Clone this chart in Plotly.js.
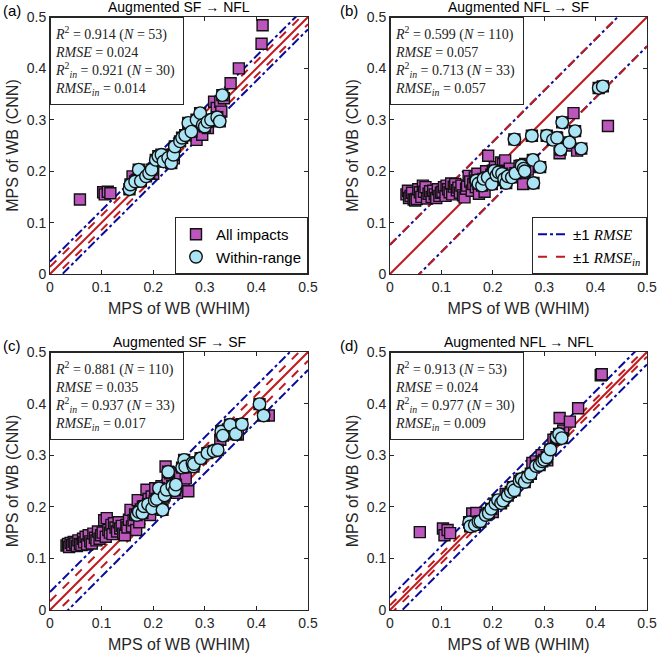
<!DOCTYPE html>
<html><head><meta charset="utf-8">
<script src="https://cdn.plot.ly/plotly-3.0.1.min.js"></script>
<style>html,body{margin:0;padding:0;background:#fff}#chart{width:658px;height:656px}</style>
</head><body><div id="chart"></div>
<script>
// ---------- NFL dataset (53 impacts, 30 within-range) ----------
const nflOutX = [0.058, 0.103, 0.106, 0.112, 0.117, 0.160, 0.168, 0.200, 0.225, 0.240, 0.277, 0.284, 0.295, 0.306, 0.318, 0.323, 0.330, 0.332, 0.337, 0.350, 0.366, 0.410, 0.412];
const nflOutY_sfModel = [0.145, 0.159, 0.155, 0.160, 0.157, 0.190, 0.183, 0.195, 0.220, 0.225, 0.281, 0.261, 0.271, 0.284, 0.335, 0.323, 0.335, 0.316, 0.342, 0.371, 0.400, 0.448, 0.484];
const nflOutY_nflModel = [0.151, 0.158, 0.145, 0.155, 0.149, 0.187, 0.188, 0.190, 0.225, 0.235, 0.285, 0.288, 0.300, 0.290, 0.330, 0.331, 0.372, 0.340, 0.348, 0.365, 0.391, 0.455, 0.457];
const nflInX = [0.154, 0.156, 0.165, 0.172, 0.176, 0.186, 0.192, 0.197, 0.205, 0.210, 0.216, 0.220, 0.229, 0.235, 0.239, 0.242, 0.252, 0.256, 0.262, 0.268, 0.274, 0.284, 0.291, 0.296, 0.300, 0.305, 0.312, 0.324, 0.329, 0.334];
const nflInY_sfModel = [0.165, 0.174, 0.180, 0.203, 0.181, 0.190, 0.196, 0.203, 0.222, 0.229, 0.232, 0.219, 0.226, 0.216, 0.232, 0.248, 0.258, 0.265, 0.270, 0.294, 0.277, 0.300, 0.313, 0.290, 0.287, 0.296, 0.300, 0.305, 0.297, 0.348];
const nflInY_nflModel = [0.170, 0.162, 0.165, 0.171, 0.172, 0.184, 0.188, 0.196, 0.206, 0.213, 0.207, 0.212, 0.222, 0.229, 0.238, 0.232, 0.250, 0.254, 0.248, 0.258, 0.264, 0.279, 0.281, 0.288, 0.291, 0.296, 0.311, 0.335, 0.341, 0.333];

// ---------- SF dataset (110 impacts, 33 within-range) ----------
const sfOutX = [0.032, 0.035, 0.037, 0.040, 0.043, 0.046, 0.049, 0.052, 0.055, 0.058, 0.061, 0.064, 0.066, 0.069, 0.072, 0.075, 0.078, 0.081, 0.084, 0.087, 0.090, 0.093, 0.096, 0.099, 0.102,
  0.105, 0.108, 0.110, 0.113, 0.116, 0.119, 0.121, 0.124, 0.127, 0.130, 0.133, 0.136, 0.139, 0.142, 0.145, 0.148, 0.150, 0.153, 0.156, 0.159, 0.162, 0.165, 0.167, 0.170, 0.173, 0.176, 0.180, 0.184,
  0.187, 0.191, 0.194, 0.197, 0.200, 0.204, 0.208, 0.212, 0.216, 0.220, 0.224, 0.228, 0.233, 0.237, 0.246, 0.252, 0.259, 0.263, 0.268,
  0.330, 0.345, 0.357, 0.364, 0.424];
const sfOutY_nflModel = [0.155, 0.162, 0.148, 0.152, 0.158, 0.145, 0.143, 0.146, 0.165, 0.159, 0.150, 0.172, 0.160, 0.169, 0.147, 0.156, 0.161, 0.150, 0.162, 0.155, 0.148, 0.165, 0.152, 0.158, 0.160,
  0.169, 0.152, 0.172, 0.165, 0.159, 0.176, 0.155, 0.170, 0.175, 0.163, 0.168, 0.158, 0.172, 0.153, 0.149, 0.166, 0.172, 0.191, 0.180, 0.162, 0.175, 0.188, 0.169, 0.195, 0.156, 0.183, 0.178, 0.160,
  0.200, 0.230, 0.178, 0.193, 0.201, 0.208, 0.183, 0.195, 0.217, 0.214, 0.221, 0.201, 0.205, 0.191, 0.190, 0.210, 0.175, 0.214, 0.203,
  0.235, 0.250, 0.313, 0.240, 0.288];
const sfOutY_sfModel = [0.125, 0.128, 0.122, 0.130, 0.126, 0.132, 0.129, 0.124, 0.135, 0.128, 0.126, 0.138, 0.131, 0.142, 0.127, 0.145, 0.133, 0.129, 0.148, 0.140, 0.135, 0.152, 0.138, 0.145, 0.150,
  0.174, 0.142, 0.178, 0.155, 0.150, 0.165, 0.147, 0.168, 0.160, 0.152, 0.170, 0.158, 0.163, 0.148, 0.145, 0.165, 0.160, 0.175, 0.194, 0.162, 0.174, 0.185, 0.155, 0.213, 0.170, 0.195, 0.200, 0.190,
  0.233, 0.215, 0.184, 0.220, 0.205, 0.236, 0.210, 0.225, 0.240, 0.218, 0.278, 0.252, 0.265, 0.232, 0.227, 0.259, 0.240, 0.255, 0.230,
  0.330, 0.350, 0.355, 0.340, 0.377];
const sfInX = [0.168, 0.172, 0.179, 0.182, 0.190, 0.198, 0.203, 0.207, 0.211, 0.218, 0.222, 0.226, 0.229, 0.237, 0.242, 0.244, 0.256, 0.260, 0.262, 0.276, 0.278, 0.279, 0.292, 0.305, 0.317, 0.325, 0.332, 0.335, 0.349, 0.360, 0.372, 0.406, 0.414];
const sfInY_nflModel = [0.182, 0.176, 0.172, 0.185, 0.188, 0.175, 0.201, 0.192, 0.198, 0.195, 0.185, 0.177, 0.190, 0.188, 0.262, 0.196, 0.211, 0.205, 0.200, 0.269, 0.222, 0.177, 0.208, 0.269, 0.261, 0.265, 0.242, 0.295, 0.256, 0.278, 0.244, 0.362, 0.365];
const sfInY_sfModel = [0.184, 0.190, 0.188, 0.201, 0.205, 0.197, 0.212, 0.215, 0.236, 0.194, 0.222, 0.233, 0.268, 0.240, 0.232, 0.243, 0.276, 0.291, 0.278, 0.285, 0.278, 0.283, 0.294, 0.304, 0.308, 0.310, 0.346, 0.338, 0.359, 0.341, 0.360, 0.399, 0.377];

// ---------- panel info ----------
const panelTitles = ['Augmented SF \u2192 NFL', 'Augmented NFL \u2192 SF', 'Augmented SF \u2192 SF', 'Augmented NFL \u2192 NFL'];
const panelLetters = ['(a)', '(b)', '(c)', '(d)'];
const r2All = ['0.914', '0.599', '0.881', '0.913'];
const nAll = [53, 110, 110, 53];
const rmseAll = [0.024, 0.057, 0.035, 0.024];
const r2In = ['0.921', '0.713', '0.937', '0.977'];
const nIn = [30, 33, 33, 30];
const rmseIn = [0.014, 0.057, 0.017, 0.009];
const tickVals = [0, 0.1, 0.2, 0.3, 0.4, 0.5];
const refX = [0, 0.5];

const panelData = [
  {outX: nflOutX, outY: nflOutY_sfModel, inX: nflInX, inY: nflInY_sfModel},
  {outX: sfOutX, outY: sfOutY_nflModel, inX: sfInX, inY: sfInY_nflModel},
  {outX: sfOutX, outY: sfOutY_sfModel, inX: sfInX, inY: sfInY_sfModel},
  {outX: nflOutX, outY: nflOutY_nflModel, inX: nflInX, inY: nflInY_nflModel}
];

// ---------- geometry (pixels) ----------
const W = 658, H = 656;
const colPx = [[50, 308], [390, 647]];
const rowPx = [[17, 274], [352, 610]];
const RED = '#C0191F', BLUE = '#0A0A9E';
const PURPLE = '#BC56BC', CYAN = '#ABE4F4';
const AX = '#262626';
const SANS = 'Liberation Sans, Arial, sans-serif';
const SERIF = 'Liberation Serif, Times New Roman, serif';

const traces = [];
const layout = {
  width: W, height: H, margin: {l: 0, r: 0, t: 0, b: 0},
  paper_bgcolor: '#fff', plot_bgcolor: '#fff', showlegend: true,
  annotations: [],
  legend: {x: 308 / W, xanchor: 'right', y: 1 - 274 / H, yanchor: 'bottom', bordercolor: AX, borderwidth: 1, bgcolor: '#fff',
           font: {family: SANS, size: 15, color: '#000'}, tracegroupgap: 0, itemwidth: 30},
  legend2: {x: 647 / W, xanchor: 'right', y: 1 - 274 / H, yanchor: 'bottom', bordercolor: AX, borderwidth: 1, bgcolor: '#fff',
           font: {family: SANS, size: 15, color: '#000'}, tracegroupgap: 0, itemwidth: 30}
};

for (let i = 0; i < 4; i++) {
  const c = i % 2, r = Math.floor(i / 2);
  const sfx = i === 0 ? '' : String(i + 1);
  const xa = 'x' + sfx, ya = 'y' + sfx;
  const d = panelData[i];
  const axBase = {
    range: [0, 0.5], tickvals: tickVals, ticks: 'inside', ticklen: 4, tickcolor: AX, tickwidth: 1,
    showline: true, linecolor: AX, linewidth: 1, mirror: 'ticks', showgrid: false, zeroline: false,
    tickfont: {family: SANS, size: 14, color: AX}, fixedrange: true
  };
  layout['xaxis' + sfx] = Object.assign({}, axBase, {
    domain: [colPx[c][0] / W, colPx[c][1] / W], anchor: ya,
    title: {text: 'MPS of WB (WHIM)', font: {family: SANS, size: 16, color: AX}, standoff: 9}
  });
  layout['yaxis' + sfx] = Object.assign({}, axBase, {
    domain: [1 - rowPx[r][1] / H, 1 - rowPx[r][0] / H], anchor: xa,
    title: {text: 'MPS of WB (CNN)', font: {family: SANS, size: 16, color: AX}, standoff: 4}
  });

  // reference lines
  [1, -1].forEach((s, k) => {
    traces.push({x: refX, y: refX.map(v => v + s * rmseAll[i]), xaxis: xa, yaxis: ya, mode: 'lines',
      line: {color: BLUE, width: 2, dash: 'dashdot'}, hoverinfo: 'skip',
      name: '\u00b11 <span style="font-family:Liberation Serif"><i>RMSE</i></span>',
      legend: 'legend2', legendgroup: 'rmse', showlegend: (i === 1 && k === 0)});
  });
  [1, -1].forEach((s, k) => {
    traces.push({x: refX, y: refX.map(v => v + s * rmseIn[i]), xaxis: xa, yaxis: ya, mode: 'lines',
      line: {color: RED, width: 2, dash: 'dash'}, hoverinfo: 'skip',
      name: '\u00b11 <span style="font-family:Liberation Serif"><i>RMSE<sub>in</sub></i></span>',
      legend: 'legend2', legendgroup: 'rmsein', showlegend: (i === 1 && k === 0)});
  });
  traces.push({x: refX, y: refX, xaxis: xa, yaxis: ya, mode: 'lines', line: {color: RED, width: 2},
    hoverinfo: 'skip', showlegend: false});

  // squares: all impacts
  traces.push({x: d.outX.concat(d.inX), y: d.outY.concat(d.inY), xaxis: xa, yaxis: ya, mode: 'markers',
    marker: {symbol: 'square', size: 11, color: PURPLE, line: {color: '#111', width: 1.4}},
    name: 'All impacts', legend: 'legend', showlegend: i === 0, cliponaxis: false});
  // circles: within range
  traces.push({x: d.inX, y: d.inY, xaxis: xa, yaxis: ya, mode: 'markers',
    marker: {symbol: 'circle', size: 12.5, color: CYAN, line: {color: '#111', width: 1.4}},
    name: 'Within-range', legend: 'legend', showlegend: i === 0, cliponaxis: false});

  // subplot title
  layout.annotations.push({xref: 'paper', yref: 'paper', x: (colPx[c][0] + colPx[c][1]) / 2 / W,
    y: 1 - (rowPx[r][0] - 1) / H, xanchor: 'center', yanchor: 'bottom', showarrow: false, borderpad: 0,
    text: panelTitles[i], font: {family: SANS, size: 14, color: '#000'}});
  // panel letter
  layout.annotations.push({xref: 'paper', yref: 'paper', x: (c === 0 ? 1 : 338) / W,
    y: 1 - (rowPx[r][0] - 17) / H, xanchor: 'left', yanchor: 'top', showarrow: false,
    text: panelLetters[i], font: {family: SANS, size: 15, color: '#000'}});
  // stats box
  const txt = '<i>R</i><sup>2</sup> = ' + r2All[i] + ' (<i>N</i> = ' + nAll[i] + ')<br>' +
    '<i>RMSE</i> = ' + rmseAll[i].toFixed(3) + '<br>' +
    '<i>R</i><sup>2</sup><sub><i>in</i></sub> = ' + r2In[i] + ' (<i>N</i> = ' + nIn[i] + ')<br>' +
    '<i>RMSE<sub>in</sub></i> = ' + rmseIn[i].toFixed(3);
  layout.annotations.push({xref: 'paper', yref: 'paper', x: colPx[c][0] / W, y: 1 - rowPx[r][0] / H,
    xanchor: 'left', yanchor: 'top', showarrow: false, align: 'left', valign: 'middle',
    width: 124, height: 78, borderpad: 4, bordercolor: AX, borderwidth: 1, bgcolor: '#fff',
    text: txt, font: {family: SERIF, size: 14, color: '#222'}});
}

Plotly.newPlot('chart', traces, layout, {displayModeBar: false, staticPlot: true});
</script>
</body></html>
